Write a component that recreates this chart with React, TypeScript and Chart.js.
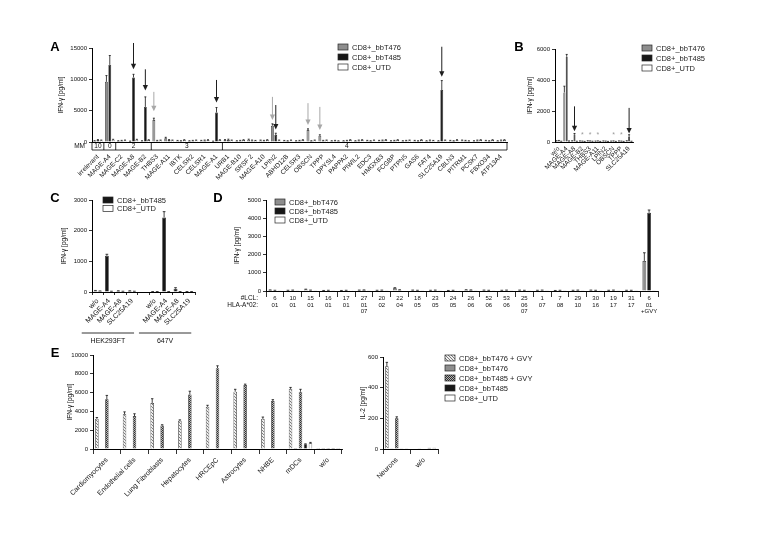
import React, { useEffect, useRef } from "react";
import { Chart, registerables } from "chart.js";

Chart.register(...registerables);

const FONT = '"Liberation Sans", Arial, Helvetica, sans-serif';
const PAGE_W = 779;
const PAGE_H = 551;

// ---------------- Panel A ----------------
const aCategories = ["irrelevant", "MAGE-A4", "MAGE-C2", "MAGE-A8", "MAGE-B2", "THBS3", "MAGE-A11", "IBTK", "CELSR2", "CELSR1", "MAGE-A1", "URB1", "MAGE-B10", "SRSF 2", "MAGE-A10", "LPIN2", "ABHD12B", "CELSR3", "OBSCN", "TPPP", "DPYSL4", "PAPPA2", "PIWIL2", "EDC3", "HMGXB3", "FCGBP", "PTPN5", "GAS6", "FAT4", "SLC25A19", "CBLN3", "PITRM1", "PCSK7", "FBXO34", "ATP13A4"];
const aBbT476 = [150, 9600, 150, 100, 150, 3500, 600, 200, 150, 200, 100, 300, 150, 350, 250, 2600, 200, 150, 1900, 1000, 150, 150, 150, 200, 200, 150, 150, 200, 150, 150, 200, 250, 150, 200, 150];
const aBbT485 = [300, 12300, 200, 10300, 5600, 200, 300, 150, 200, 250, 4700, 350, 200, 250, 200, 1100, 150, 200, 150, 200, 200, 200, 250, 150, 250, 200, 200, 150, 250, 8300, 150, 200, 250, 150, 250];
const aUTD = [250, 350, 250, 350, 300, 250, 250, 300, 250, 300, 300, 250, 300, 200, 300, 250, 250, 300, 250, 250, 150, 300, 300, 250, 300, 300, 250, 300, 200, 250, 300, 150, 300, 300, 300];
const aErr476 = [60, 1000, 50, 40, 50, 300, 150, 50, 50, 60, 40, 80, 50, 100, 60, 300, 50, 50, 200, 150, 50, 50, 50, 60, 60, 50, 50, 60, 50, 50, 60, 60, 50, 60, 50];
const aErr485 = [80, 1500, 60, 500, 1600, 60, 80, 50, 60, 60, 800, 100, 60, 60, 60, 300, 50, 60, 50, 60, 60, 60, 60, 50, 60, 60, 60, 50, 60, 1500, 50, 60, 60, 50, 60];
const aErrUTD = [60, 80, 60, 80, 60, 60, 60, 60, 60, 60, 60, 60, 60, 50, 60, 60, 60, 60, 60, 60, 40, 60, 60, 60, 60, 60, 60, 60, 50, 60, 60, 40, 60, 60, 60];
const aMMLabels = ["10", "0", "2", "3", "4"];
const aMMStart = [0, 1, 2, 5, 11];
const aMMEnd = [0, 1, 4, 10, 34];
const aMMTextAt = [0, 1, 3, 7.5, 21];
const aArrowCat = [3, 4, 5, 10, 15, 15, 18, 19, 29];
const aArrowSeries = [1, 1, 0, 1, 0, 1, 0, 0, 1];
const aArrowFrom = [15800, 11600, 8000, 9900, 7200, 5900, 6200, 5600, 15200];
const aArrowTo = [11600, 8200, 4900, 6300, 3500, 2000, 2700, 1900, 10400];

// ---------------- Panel B ----------------
const bCategories = ["w/o", "MAGE-A4", "MAGE-A8", "MAGE-B2", "THBS3", "MAGE-A11", "LPIN2", "OBSCN", "TPPP", "SLC25A19"];
const bBbT476 = [60, 3200, 60, 50, 60, 40, 50, 40, 50, 60];
const bBbT485 = [80, 5500, 500, 40, 50, 50, 40, 50, 40, 350];
const bUTD = [40, 60, 40, 30, 40, 30, 30, 30, 30, 40];
const bErr476 = [20, 400, 20, 20, 20, 20, 20, 20, 20, 20];
const bErr485 = [20, 150, 50, 20, 20, 20, 20, 20, 20, 120];
const bErrUTD = [10, 10, 10, 10, 10, 10, 10, 10, 10, 10];
const bArrowCat = [2, 9];
const bArrowSeries = [1, 1];
const bArrowFrom = [2300, 2200];
const bArrowTo = [700, 550];
const bStarCats = [3, 4, 5, 7, 8];

// ---------------- Panel C ----------------
const cCategories = ["w/o", "MAGE-A4", "MAGE-A8", "SLC25A19", "", "w/o", "MAGE-A4", "MAGE-A8", "SLC25A19"];
const cBbT485 = [40, 1180, 30, 30, null, 10, 2430, 110, 10];
const cUTD = [30, 20, 20, 20, null, 10, 10, 10, 10];
const cErr485 = [10, 50, 10, 10, 0, 5, 190, 30, 5];
const cErrUTD = [5, 5, 5, 5, 0, 5, 5, 5, 5];
const cGroupLabels = ["HEK293FT", "647V"];
const cGroupFrom = [0, 5];
const cGroupTo = [3, 8];

// ---------------- Panel D ----------------
const dLCL = ["6", "10", "15", "16", "17", "27", "20", "22", "18", "23", "24", "26", "52", "53", "25", "1", "7", "29", "30", "19", "31", "6"];
const dHLA = ["01", "01", "01", "01", "01", "01/07", "02", "04", "05", "05", "05", "06", "06", "06", "06/07", "07", "08", "10", "16", "17", "17", "01/+GVY"];
const dBbT476 = [50, 30, 80, 20, 20, 40, 30, 150, 40, 30, 20, 60, 40, 30, 40, 30, 20, 30, 40, 30, 30, 1650];
const dBbT485 = [30, 40, 40, 30, 30, 50, 40, 60, 30, 40, 30, 50, 30, 40, 30, 40, 30, 40, 30, 40, 30, 4300];
const dUTD = [20, 20, 20, 20, 10, 20, 20, 30, 20, 20, 10, 20, 20, 20, 20, 20, 20, 20, 20, 20, 20, 20];
const dErr476 = [10, 10, 20, 10, 10, 10, 10, 30, 10, 10, 10, 10, 10, 10, 10, 10, 10, 10, 10, 10, 10, 450];
const dErr485 = [10, 10, 10, 10, 10, 10, 10, 10, 10, 10, 10, 10, 10, 10, 10, 10, 10, 10, 10, 10, 10, 150];

// ---------------- Panel E ----------------
const eCategories = ["Cardiomyocytes", "Endothelial cells", "Lung Fibroblasts", "Hepatocytes", "HRCEpC", "Astrocytes", "NHBE", "mDCs", "w/o"];
const eBbT476GVY = [3200, 3700, 4900, 3000, 4500, 6100, 3200, 6400, 10];
const eBbT476 = [0, 0, 0, 0, 0, 0, 0, 100, 10];
const eBbT485GVY = [5300, 3500, 2500, 5800, 8600, 6800, 5100, 6100, 10];
const eBbT485 = [0, 0, 0, 0, 0, 0, 0, 500, 10];
const eUTD = [0, 0, 0, 0, 0, 0, 0, 600, 10];
const eErr476GVY = [150, 250, 450, 100, 150, 250, 200, 150, 0];
const eErr485GVY = [400, 250, 80, 350, 250, 100, 150, 250, 0];
const eErr485 = [0, 0, 0, 0, 0, 0, 0, 50, 0];
const eErrUTD = [0, 0, 0, 0, 0, 0, 0, 100, 0];

const e2Categories = ["Neurons", "w/o"];
const e2BbT476GVY = [540, 3];
const e2BbT476 = [5, 5];
const e2BbT485GVY = [200, 3];
const e2BbT485 = [5, 8];
const e2UTD = [5, 8];
const e2Err476GVY = [25, 0];
const e2Err485GVY = [10, 0];

const legend3 = ["CD8+_bbT476", "CD8+_bbT485", "CD8+_UTD"];
const legend2 = ["CD8+_bbT485", "CD8+_UTD"];
const legend5 = ["CD8+_bbT476 + GVY", "CD8+_bbT476", "CD8+_bbT485 + GVY", "CD8+_bbT485", "CD8+_UTD"];

// ---------------- styles ----------------
const GREY = "#8e8e8e";
const BLACK = "#171717";
const WHITE = "#ffffff";
const EDGE = "#262626";
const ARROW_GREY = "#a8a8a8";
const ARROW_BLACK = "#1e1e1e";

function hatchPattern(kind: string): any {
  const c = document.createElement("canvas");
  const n = kind === "light" ? 3 : 2;
  c.width = n;
  c.height = n;
  const g = c.getContext("2d");
  if (!g) return kind === "light" ? "#dddddd" : "#777777";
  if (kind === "light") {
    g.fillStyle = "#eeeeee";
    g.fillRect(0, 0, n, n);
    g.fillStyle = "#7a7a7a";
    for (let i = 0; i < n; i++) g.fillRect(i, i, 1, 1);
  } else {
    g.fillStyle = "#b4b4b4";
    g.fillRect(0, 0, n, n);
    g.fillStyle = "#2e2e2e";
    g.fillRect(0, 0, 1, 1);
    g.fillRect(1, 1, 1, 1);
  }
  return g.createPattern(c, "repeat") || "#999999";
}

function dataset(label: string, data: any[], bg: any, errors: any, cat: number, bar: number) {
  return {
    label,
    data,
    backgroundColor: bg,
    borderColor: EDGE,
    borderWidth: 0.7,
    errors,
    categoryPercentage: cat,
    barPercentage: bar,
  };
}

function drawLetter(ctx: any, t: string, x: number, y: number) {
  ctx.save();
  ctx.font = `bold 13px ${FONT}`;
  ctx.fillStyle = "#000";
  ctx.textAlign = "center";
  ctx.textBaseline = "middle";
  ctx.fillText(t, x, y);
  ctx.restore();
}

const errorBarPlugin = {
  id: "errorBars",
  afterDatasetsDraw(chart: any) {
    const ctx = chart.ctx;
    const ys = chart.scales.y;
    ctx.save();
    ctx.strokeStyle = "#111";
    ctx.lineWidth = 0.8;
    chart.data.datasets.forEach((d: any, di: number) => {
      const errs = d.errors;
      if (!errs) return;
      const meta = chart.getDatasetMeta(di);
      meta.data.forEach((bar: any, i: number) => {
        const v = d.data[i];
        const e = errs[i];
        if (v == null || !e) return;
        const y0 = ys.getPixelForValue(v);
        const y1 = ys.getPixelForValue(v + e);
        const hw = Math.max(1, bar.width * 0.35);
        ctx.beginPath();
        ctx.moveTo(bar.x, y0);
        ctx.lineTo(bar.x, y1);
        ctx.moveTo(bar.x - hw, y1);
        ctx.lineTo(bar.x + hw, y1);
        ctx.stroke();
      });
    });
    ctx.restore();
  },
};

function arrowPlugin(cats: number[], series: number[], from: number[], to: number[]) {
  return {
    id: "arrows",
    afterDatasetsDraw(chart: any) {
      const ctx = chart.ctx;
      const ys = chart.scales.y;
      cats.forEach((cat, k) => {
        const bar: any = chart.getDatasetMeta(series[k]).data[cat];
        if (!bar) return;
        const x = bar.x;
        const y1 = ys.getPixelForValue(from[k]);
        const y2 = ys.getPixelForValue(to[k]);
        const col = series[k] === 0 ? ARROW_GREY : ARROW_BLACK;
        ctx.save();
        ctx.strokeStyle = col;
        ctx.fillStyle = col;
        ctx.lineWidth = 1;
        ctx.beginPath();
        ctx.moveTo(x, y1);
        ctx.lineTo(x, y2 - 4);
        ctx.stroke();
        ctx.beginPath();
        ctx.moveTo(x - 2.6, y2 - 5.5);
        ctx.lineTo(x + 2.6, y2 - 5.5);
        ctx.lineTo(x, y2);
        ctx.closePath();
        ctx.fill();
        ctx.restore();
      });
    },
  };
}

function legendPlugin(x: number, y: number, gap: number, labels: string[], fills: any[]) {
  return {
    id: "boxLegend",
    afterDraw(chart: any) {
      const ctx = chart.ctx;
      ctx.save();
      ctx.font = `7.5px ${FONT}`;
      ctx.textBaseline = "middle";
      ctx.textAlign = "left";
      labels.forEach((l, i) => {
        const yy = y + i * gap;
        ctx.fillStyle = fills[i];
        ctx.fillRect(x, yy - 3, 10, 6);
        ctx.strokeStyle = EDGE;
        ctx.lineWidth = 0.7;
        ctx.strokeRect(x, yy - 3, 10, 6);
        ctx.fillStyle = "#222";
        ctx.fillText(l, x + 14, yy + 0.5);
      });
      ctx.restore();
    },
  };
}

function buildConfig(p: any): any {
  return {
    type: "bar",
    data: { labels: p.labels, datasets: p.datasets },
    options: {
      responsive: false,
      animation: false,
      devicePixelRatio: 1,
      events: [],
      layout: {
        padding: {
          left: p.left - p.yAxisW,
          top: p.top,
          right: PAGE_W - p.right,
          bottom: PAGE_H - p.bottom - p.xAxisH,
        },
      },
      plugins: { legend: { display: false }, tooltip: { enabled: false }, title: { display: false } },
      scales: {
        x: {
          offset: true,
          grid: {
            display: true,
            offset: true,
            drawOnChartArea: false,
            drawTicks: p.xTickLen > 0,
            tickLength: p.xTickLen,
            color: "#000",
            lineWidth: 0.8,
          },
          border: { display: true, color: "#000", width: 1 },
          ticks: {
            display: p.showXLabels,
            autoSkip: false,
            minRotation: 45,
            maxRotation: 45,
            padding: p.xTickPad,
            color: "#111",
            font: { family: FONT, size: p.xFont },
          },
          afterFit: (s: any) => {
            s.height = p.xAxisH;
          },
        },
        y: {
          min: 0,
          max: p.yMax,
          grid: { display: true, drawOnChartArea: false, drawTicks: true, tickLength: 3, color: "#000", lineWidth: 0.8 },
          border: { display: true, color: "#000", width: 1 },
          ticks: {
            stepSize: p.yStep,
            padding: 2,
            color: "#111",
            font: { family: FONT, size: 6 },
            callback: (v: any) => String(v),
          },
          title: { display: true, text: p.yTitle, color: "#111", padding: 0, font: { family: FONT, size: 6.5 } },
          afterFit: (s: any) => {
            s.width = p.yAxisW;
          },
        },
      },
    },
    plugins: p.plugins,
  };
}

export default function App() {
  const refA = useRef<HTMLCanvasElement>(null);
  const refB = useRef<HTMLCanvasElement>(null);
  const refC = useRef<HTMLCanvasElement>(null);
  const refD = useRef<HTMLCanvasElement>(null);
  const refE = useRef<HTMLCanvasElement>(null);
  const refE2 = useRef<HTMLCanvasElement>(null);

  useEffect(() => {
    const charts: Chart[] = [];
    const light = hatchPattern("light");
    const dark = hatchPattern("dark");
    const IFN = "IFN-\u03b3 [pg/ml]";

    // ---- A ----
    if (refA.current) {
      const extras = {
        id: "aExtras",
        afterDraw(chart: any) {
          const ctx = chart.ctx;
          const xs = chart.scales.x;
          const ca = chart.chartArea;
          const cw = xs.getPixelForValue(1) - xs.getPixelForValue(0);
          const top = ca.bottom;
          const bot = ca.bottom + 8;
          ctx.save();
          ctx.strokeStyle = "#000";
          ctx.lineWidth = 0.8;
          ctx.beginPath();
          ctx.moveTo(ca.left, bot);
          ctx.lineTo(ca.right, bot);
          aMMStart.forEach((s) => {
            const xl = xs.getPixelForValue(s) - cw / 2;
            ctx.moveTo(xl, top);
            ctx.lineTo(xl, bot);
          });
          ctx.moveTo(ca.right, top);
          ctx.lineTo(ca.right, bot);
          ctx.stroke();
          ctx.font = `6.5px ${FONT}`;
          ctx.fillStyle = "#111";
          ctx.textAlign = "center";
          ctx.textBaseline = "middle";
          aMMLabels.forEach((l, i) => {
            const xc = xs.getPixelForValue(0) + aMMTextAt[i] * cw;
            ctx.fillText(l, xc, (top + bot) / 2 + 0.5);
          });
          ctx.textAlign = "right";
          ctx.fillText("MM", ca.left - 7, (top + bot) / 2 + 0.5);
          ctx.restore();
          drawLetter(ctx, "A", 55, 47);
        },
      };
      charts.push(
        new Chart(
          refA.current,
          buildConfig({
            left: 92, right: 507, top: 48, bottom: 142, yAxisW: 35, xAxisH: 50,
            labels: aCategories,
            datasets: [
              dataset(legend3[0], aBbT476, GREY, aErr476, 0.85, 0.85),
              dataset(legend3[1], aBbT485, BLACK, aErr485, 0.85, 0.85),
              dataset(legend3[2], aUTD, WHITE, aErrUTD, 0.85, 0.85),
            ],
            yMax: 15000, yStep: 5000, yTitle: IFN,
            showXLabels: true, xTickLen: 0, xTickPad: 11, xFont: 6.5,
            plugins: [
              errorBarPlugin,
              arrowPlugin(aArrowCat, aArrowSeries, aArrowFrom, aArrowTo),
              legendPlugin(338, 47, 10, legend3, [GREY, BLACK, WHITE]),
              extras,
            ],
          })
        )
      );
    }

    // ---- B ----
    if (refB.current) {
      const extras = {
        id: "bExtras",
        afterDraw(chart: any) {
          const ctx = chart.ctx;
          const xs = chart.scales.x;
          const ys = chart.scales.y;
          ctx.save();
          ctx.font = `7px ${FONT}`;
          ctx.fillStyle = "#9a9a9a";
          ctx.textAlign = "center";
          ctx.textBaseline = "middle";
          bStarCats.forEach((c) => {
            ctx.fillText("*", xs.getPixelForValue(c), ys.getPixelForValue(450));
          });
          ctx.restore();
          drawLetter(ctx, "B", 519, 47);
        },
      };
      charts.push(
        new Chart(
          refB.current,
          buildConfig({
            left: 555, right: 633, top: 49, bottom: 142, yAxisW: 29, xAxisH: 45,
            labels: bCategories,
            datasets: [
              dataset(legend3[0], bBbT476, GREY, bErr476, 0.9, 0.85),
              dataset(legend3[1], bBbT485, BLACK, bErr485, 0.9, 0.85),
              dataset(legend3[2], bUTD, WHITE, bErrUTD, 0.9, 0.85),
            ],
            yMax: 6000, yStep: 2000, yTitle: IFN,
            showXLabels: true, xTickLen: 0, xTickPad: 3, xFont: 6.5,
            plugins: [
              errorBarPlugin,
              arrowPlugin(bArrowCat, bArrowSeries, bArrowFrom, bArrowTo),
              legendPlugin(642, 48, 10, legend3, [GREY, BLACK, WHITE]),
              extras,
            ],
          })
        )
      );
    }

    // ---- C ----
    if (refC.current) {
      const extras = {
        id: "cExtras",
        afterDraw(chart: any) {
          const ctx = chart.ctx;
          const xs = chart.scales.x;
          ctx.save();
          ctx.strokeStyle = "#000";
          ctx.lineWidth = 0.8;
          ctx.font = `7px ${FONT}`;
          ctx.fillStyle = "#111";
          ctx.textAlign = "center";
          ctx.textBaseline = "middle";
          cGroupLabels.forEach((l, i) => {
            const x0 = xs.getPixelForValue(cGroupFrom[i]) - 16;
            const x1 = xs.getPixelForValue(cGroupTo[i]) + 2;
            ctx.beginPath();
            ctx.moveTo(x0, 333);
            ctx.lineTo(x1, 333);
            ctx.stroke();
            ctx.fillText(l, (x0 + x1) / 2, 341);
          });
          ctx.restore();
          drawLetter(ctx, "C", 55, 198);
        },
      };
      charts.push(
        new Chart(
          refC.current,
          buildConfig({
            left: 92, right: 195, top: 200, bottom: 292, yAxisW: 32, xAxisH: 40,
            labels: cCategories,
            datasets: [
              dataset(legend2[0], cBbT485, BLACK, cErr485, 0.8, 0.85),
              dataset(legend2[1], cUTD, WHITE, cErrUTD, 0.8, 0.85),
            ],
            yMax: 3000, yStep: 1000, yTitle: IFN,
            showXLabels: true, xTickLen: 3, xTickPad: 2, xFont: 7,
            plugins: [errorBarPlugin, legendPlugin(103, 200, 8.5, legend2, [BLACK, WHITE]), extras],
          })
        )
      );
    }

    // ---- D ----
    if (refD.current) {
      const extras = {
        id: "dExtras",
        afterDraw(chart: any) {
          const ctx = chart.ctx;
          const xs = chart.scales.x;
          const b = chart.chartArea.bottom;
          ctx.save();
          ctx.fillStyle = "#111";
          ctx.textBaseline = "middle";
          ctx.textAlign = "center";
          ctx.font = `6px ${FONT}`;
          dLCL.forEach((t, i) => {
            const px = xs.getPixelForValue(i);
            ctx.fillText(t, px, b + 7);
            dHLA[i].split("/").forEach((line, k) => {
              ctx.fillText(line, px, b + 14 + k * 6);
            });
          });
          ctx.textAlign = "right";
          ctx.font = `6.5px ${FONT}`;
          ctx.fillText("#LCL:", 258, b + 7);
          ctx.fillText("HLA-A*02:", 258, b + 14);
          ctx.restore();
          drawLetter(ctx, "D", 218, 198);
        },
      };
      charts.push(
        new Chart(
          refD.current,
          buildConfig({
            left: 266, right: 658, top: 200, bottom: 291, yAxisW: 33, xAxisH: 30,
            labels: dLCL,
            datasets: [
              dataset(legend3[0], dBbT476, GREY, dErr476, 0.8, 0.8),
              dataset(legend3[1], dBbT485, BLACK, dErr485, 0.8, 0.8),
              dataset(legend3[2], dUTD, WHITE, null, 0.8, 0.8),
            ],
            yMax: 5000, yStep: 1000, yTitle: IFN,
            showXLabels: false, xTickLen: 6, xTickPad: 2, xFont: 6,
            plugins: [errorBarPlugin, legendPlugin(275, 202, 9, legend3, [GREY, BLACK, WHITE]), extras],
          })
        )
      );
    }

    // ---- E (IFN) ----
    if (refE.current) {
      const extras = {
        id: "eExtras",
        afterDraw(chart: any) {
          drawLetter(chart.ctx, "E", 55, 353);
        },
      };
      charts.push(
        new Chart(
          refE.current,
          buildConfig({
            left: 93, right: 342, top: 355, bottom: 449, yAxisW: 27, xAxisH: 55,
            labels: eCategories,
            datasets: [
              dataset(legend5[0], eBbT476GVY, light, eErr476GVY, 0.9, 0.7),
              dataset(legend5[1], eBbT476, GREY, null, 0.9, 0.7),
              dataset(legend5[2], eBbT485GVY, dark, eErr485GVY, 0.9, 0.7),
              dataset(legend5[3], eBbT485, BLACK, eErr485, 0.9, 0.7),
              dataset(legend5[4], eUTD, WHITE, eErrUTD, 0.9, 0.7),
            ],
            yMax: 10000, yStep: 2000, yTitle: IFN,
            showXLabels: true, xTickLen: 5, xTickPad: 2, xFont: 7,
            plugins: [errorBarPlugin, extras],
          })
        )
      );
    }

    // ---- E (IL-2) ----
    if (refE2.current) {
      charts.push(
        new Chart(
          refE2.current,
          buildConfig({
            left: 383, right: 438, top: 357, bottom: 449, yAxisW: 24, xAxisH: 40,
            labels: e2Categories,
            datasets: [
              dataset(legend5[0], e2BbT476GVY, light, e2Err476GVY, 0.9, 0.7),
              dataset(legend5[1], e2BbT476, GREY, null, 0.9, 0.7),
              dataset(legend5[2], e2BbT485GVY, dark, e2Err485GVY, 0.9, 0.7),
              dataset(legend5[3], e2BbT485, BLACK, null, 0.9, 0.7),
              dataset(legend5[4], e2UTD, WHITE, null, 0.9, 0.7),
            ],
            yMax: 600, yStep: 200, yTitle: "IL-2 [pg/ml]",
            showXLabels: true, xTickLen: 5, xTickPad: 2, xFont: 7,
            plugins: [errorBarPlugin, legendPlugin(445, 358, 10, legend5, [light, GREY, dark, BLACK, WHITE])],
          })
        )
      );
    }

    return () => {
      charts.forEach((c) => c.destroy());
    };
  }, []);

  const canvasStyle: React.CSSProperties = { position: "absolute", left: 0, top: 0 };
  return (
    <div style={{ position: "absolute", left: 0, top: 0, width: PAGE_W, height: PAGE_H, background: "#fff", overflow: "hidden" }}>
      <canvas ref={refA} width={PAGE_W} height={PAGE_H} style={canvasStyle} />
      <canvas ref={refB} width={PAGE_W} height={PAGE_H} style={canvasStyle} />
      <canvas ref={refC} width={PAGE_W} height={PAGE_H} style={canvasStyle} />
      <canvas ref={refD} width={PAGE_W} height={PAGE_H} style={canvasStyle} />
      <canvas ref={refE} width={PAGE_W} height={PAGE_H} style={canvasStyle} />
      <canvas ref={refE2} width={PAGE_W} height={PAGE_H} style={canvasStyle} />
    </div>
  );
}
